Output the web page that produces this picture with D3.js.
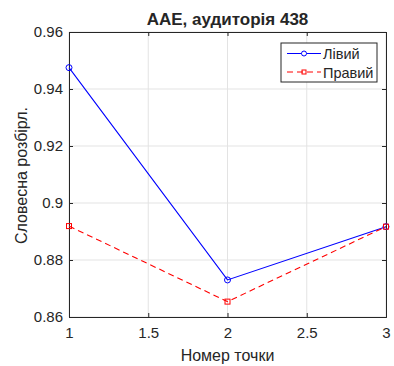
<!DOCTYPE html>
<html>
<head>
<meta charset="utf-8">
<script src="https://cdn.jsdelivr.net/npm/d3@7"></script>
<style>
  body { margin: 0; background: #fff; }
  text { font-family: "Liberation Sans", Arial, sans-serif; fill: #262626; }
</style>
</head>
<body>
<div id="chart"></div>
<script>
var points = [1, 2, 3];
var leftValues = [0.9475, 0.8730, 0.8917];
var rightValues = [0.8919, 0.8654, 0.8917];
var xTicks = [1, 1.5, 2, 2.5, 3];
var yTicks = [0.86, 0.88, 0.9, 0.92, 0.94, 0.96];
var seriesNames = ['Лівий', 'Правий'];

var width = 394, height = 366;
var margin = { top: 32, right: 8, bottom: 49, left: 69 };
var plotW = width - margin.left - margin.right;
var plotH = height - margin.top - margin.bottom;

var svg = d3.select('#chart').append('svg')
  .attr('width', width).attr('height', height);

var x = d3.scaleLinear().domain([1, 3]).range([0, plotW]);
var y = d3.scaleLinear().domain([0.86, 0.96]).range([plotH, 0]);

var g = svg.append('g').attr('transform', 'translate(' + margin.left + ',' + margin.top + ')');

// grid
g.append('g').selectAll('line').data(xTicks).enter().append('line')
  .attr('x1', function(d) { return x(d); }).attr('x2', function(d) { return x(d); })
  .attr('y1', 0).attr('y2', plotH)
  .attr('stroke', '#e3e3e3').attr('stroke-width', 1);
g.append('g').selectAll('line').data(yTicks).enter().append('line')
  .attr('y1', function(d) { return y(d); }).attr('y2', function(d) { return y(d); })
  .attr('x1', 0).attr('x2', plotW)
  .attr('stroke', '#e3e3e3').attr('stroke-width', 1);

// axes, ticks inside
var fmt = function(d) { return String(+d.toFixed(2)); };
var xAxis = g.append('g').attr('transform', 'translate(0,' + plotH + ')')
  .call(d3.axisBottom(x).tickValues(xTicks).tickSize(-4).tickPadding(10).tickFormat(fmt));
var xAxisTop = g.append('g')
  .call(d3.axisTop(x).tickValues(xTicks).tickSize(-4).tickFormat(''));
var yAxis = g.append('g')
  .call(d3.axisLeft(y).tickValues(yTicks).tickSize(-4).tickPadding(6).tickFormat(fmt));
var yAxisRight = g.append('g').attr('transform', 'translate(' + plotW + ',0)')
  .call(d3.axisRight(y).tickValues(yTicks).tickSize(-4).tickFormat(''));

[xAxis, xAxisTop, yAxis, yAxisRight].forEach(function(a) {
  a.selectAll('.domain').attr('stroke', '#262626');
  a.selectAll('.tick line').attr('stroke', '#262626');
  a.selectAll('text').style('font-size', '15px').attr('fill', '#262626')
    .style('font-family', '"Liberation Sans", Arial, sans-serif');
});

// lines
var line = d3.line()
  .x(function(d, i) { return x(points[i]); })
  .y(function(d) { return y(d); });

g.append('path').datum(leftValues).attr('d', line)
  .attr('fill', 'none').attr('stroke', '#0000ff').attr('stroke-width', 1.1);
g.append('path').datum(rightValues).attr('d', line)
  .attr('fill', 'none').attr('stroke', '#ff0000').attr('stroke-width', 1.1)
  .attr('stroke-dasharray', '6,4');

g.append('g').selectAll('circle').data(leftValues).enter().append('circle')
  .attr('cx', function(d, i) { return x(points[i]); })
  .attr('cy', function(d) { return y(d); })
  .attr('r', 3).attr('fill', 'none').attr('stroke', '#0000ff');
g.append('g').selectAll('rect').data(rightValues).enter().append('rect')
  .attr('x', function(d, i) { return x(points[i]) - 2.5; })
  .attr('y', function(d) { return y(d) - 2.5; })
  .attr('width', 5).attr('height', 5)
  .attr('fill', 'none').attr('stroke', '#ff0000');

// title and labels
svg.append('text').attr('x', margin.left + plotW / 2).attr('y', 25)
  .attr('text-anchor', 'middle').style('font-size', '17px').style('font-weight', 'bold')
  .attr('fill', '#000').text('AAE, аудиторія 438');
svg.append('text').attr('x', margin.left + plotW / 2).attr('y', 361)
  .attr('text-anchor', 'middle').style('font-size', '16px')
  .text('Номер точки');
svg.append('text')
  .attr('transform', 'translate(27,' + (margin.top + plotH / 2 + 1) + ') rotate(-90)')
  .attr('text-anchor', 'middle').style('font-size', '16px')
  .text('Словесна розбірл.');

// legend
var lg = svg.append('g').attr('transform', 'translate(281,43)');
lg.append('rect').attr('width', 96).attr('height', 39)
  .attr('fill', '#fff').attr('stroke', '#262626').attr('stroke-width', 1);
var entries = [
  { name: seriesNames[0], color: '#0000ff', dash: null, marker: 'circle' },
  { name: seriesNames[1], color: '#ff0000', dash: '6,4', marker: 'square' }
];
entries.forEach(function(e, i) {
  var yy = 10.5 + i * 18.5;
  lg.append('line').attr('x1', 6).attr('x2', 40).attr('y1', yy).attr('y2', yy)
    .attr('stroke', e.color).attr('stroke-dasharray', e.dash);
  if (e.marker === 'circle') {
    lg.append('circle').attr('cx', 23).attr('cy', yy).attr('r', 2.5)
      .attr('fill', '#fff').attr('stroke', e.color);
  } else {
    lg.append('rect').attr('x', 21).attr('y', yy - 2).attr('width', 4).attr('height', 4)
      .attr('fill', 'none').attr('stroke', e.color);
  }
  lg.append('text').attr('x', 42).attr('y', yy + 5.5).style('font-size', '14.5px')
    .attr('fill', '#000').text(e.name);
});
</script>
</body>
</html>
